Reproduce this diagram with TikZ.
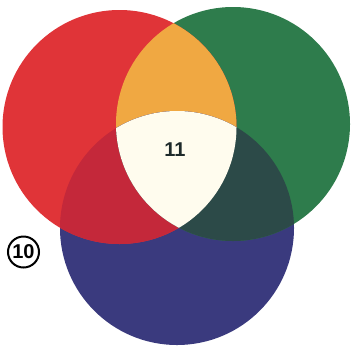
\documentclass[tikz,border=0pt]{standalone}
\usepackage{fontspec}
\setmainfont{Liberation Sans}
\definecolor{cred}{HTML}{E03438}
\definecolor{cgreen}{HTML}{2E7C4C}
\definecolor{cblue}{HTML}{3A3A7E}
\definecolor{corange}{HTML}{F0A842}
\definecolor{crb}{HTML}{C4283A}
\definecolor{cgb}{HTML}{2C4A48}
\definecolor{cwhite}{HTML}{FFFCEE}
\definecolor{ctext}{HTML}{1E2A2A}
\begin{document}
\begin{tikzpicture}[x=1pt,y=-1pt,
  lbl/.style={font=\bfseries\fontsize{20}{20}\selectfont, text=ctext, inner sep=0pt},
  numcirc/.style={circle, draw=black, line width=2pt, minimum size=31pt, inner sep=0pt, font=\bfseries\fontsize{20}{20}\selectfont}]
\useasboundingbox (0,0) rectangle (352,351);
\coordinate (R) at (119.5,127);
\coordinate (G) at (233,124);
\coordinate (B) at (177,228);
\def\rad{117}
% base circles
\fill[cblue] (B) circle (\rad);
\fill[cgreen] (G) circle (\rad);
\fill[cred] (R) circle (\rad);
% pairwise intersections
\begin{scope}
  \clip (R) circle (\rad);
  \fill[corange] (G) circle (\rad);
  \fill[crb] (B) circle (\rad);
\end{scope}
\begin{scope}
  \clip (G) circle (\rad);
  \fill[cgb] (B) circle (\rad);
\end{scope}
% triple intersection
\begin{scope}
  \clip (R) circle (\rad);
  \clip (G) circle (\rad);
  \fill[cwhite] (B) circle (\rad);
\end{scope}
\node[lbl] (t11) at (175,150) {11};
\node[numcirc] (t10) at (23.5,252) {10};
\end{tikzpicture}
\end{document}
